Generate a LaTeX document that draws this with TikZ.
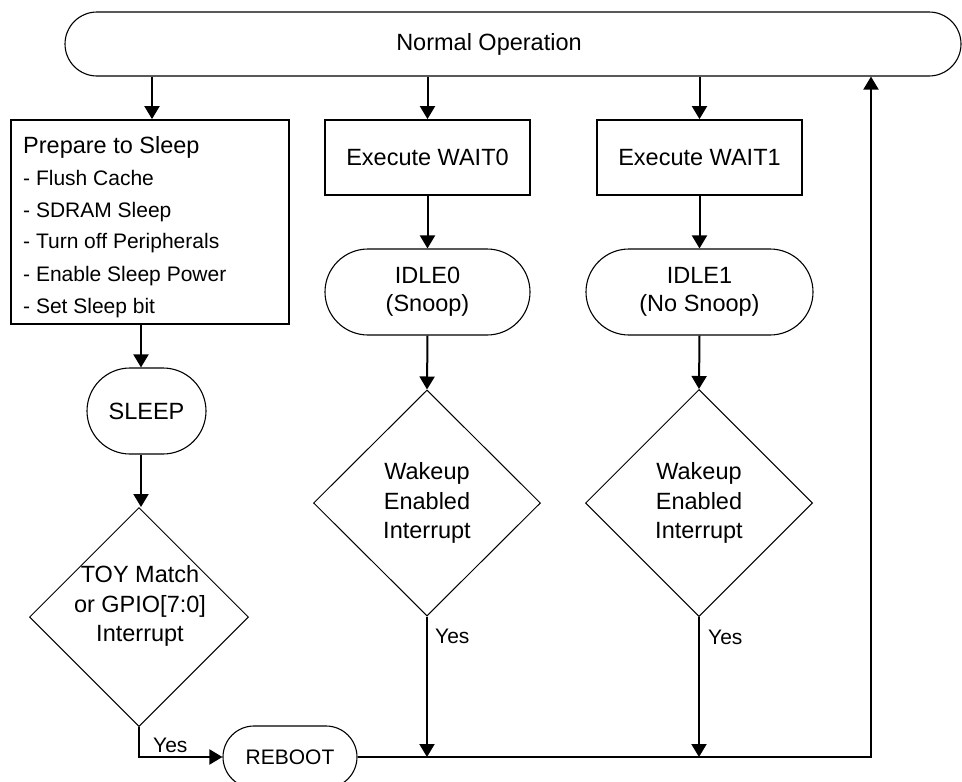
\documentclass[tikz,border=0pt]{standalone}
\usepackage{fontspec}
\setmainfont{Liberation Sans}
\usetikzlibrary{arrows.meta,shapes.geometric}
\begin{document}
\begin{tikzpicture}[x=1pt,y=-1pt,
  big/.style={font=\fontsize{23.5}{29.5}\selectfont},
  small/.style={font=\fontsize{21}{26}\selectfont},
  txt/.style={inner sep=0pt, align=center},
  box/.style={draw, line width=1.8pt, inner sep=0pt, align=center, big},
  term/.style={draw, line width=1.1pt, inner sep=0pt, align=center, font=\fontsize{23.5}{28}\selectfont},
  dec/.style={draw, diamond, aspect=1, line width=1pt, inner sep=0pt, align=center, big},
  arr/.style={draw, line width=2pt, -{Triangle[width=15pt,length=13pt]}}
]
\useasboundingbox (0,0) rectangle (962,782);

% shapes
\node[term, rounded corners=32pt, minimum width=896pt, minimum height=64pt] (normal) at (513,44) {};
\node[txt, big, anchor=base] (normaltext) at (489,50) {Normal Operation};

\node[box, minimum width=278pt, minimum height=204pt] (prep) at (150,222) {};
\node[txt, big, anchor=base west] (p0) at (23,153) {Prepare to Sleep};
\node[txt, small, anchor=base west] (p1) at (23,185) {- Flush Cache};
\node[txt, small, anchor=base west] (p2) at (23,217) {- SDRAM Sleep};
\node[txt, small, anchor=base west] (p3) at (23,248) {- Turn off Peripherals};
\node[txt, small, anchor=base west] (p4) at (23,281) {- Enable Sleep Power};
\node[txt, small, anchor=base west] (p5) at (23,313) {- Set Sleep bit};

\node[box, minimum width=205pt, minimum height=75pt] (wait0) at (427.5,157.5) {Execute WAIT0};
\node[box, minimum width=205pt, minimum height=75pt] (wait1) at (699.5,157.5) {Execute WAIT1};

\node[term, rounded corners=43pt, minimum width=205pt, minimum height=86pt] (idle0) at (427.5,292) {IDLE0\\(Snoop)};
\node[term, rounded corners=43pt, minimum width=227pt, minimum height=86pt] (idle1) at (699.5,292) {IDLE1\\(No Snoop)};

\node[term, rounded corners=43pt, minimum width=119pt, minimum height=86pt] (sleep) at (146.5,411) {SLEEP};

\node[dec, minimum width=219pt, minimum height=219pt] (toy) at (139,617) {};
\node[txt, big] (toytext) at (140,606.4) {TOY Match\\or GPIO[7:0]\\Interrupt};

\node[dec, minimum width=227pt, minimum height=226pt] (wake0) at (427,503) {Wakeup\\Enabled\\Interrupt};
\node[dec, minimum width=227pt, minimum height=227pt] (wake1) at (699,503) {Wakeup\\Enabled\\Interrupt};

\node[term, small, rounded corners=31pt, minimum width=134pt, minimum height=62pt] (reboot) at (290,757) {REBOOT};

% labels
\node[txt, small, anchor=base west] (yes0) at (153,752) {Yes};
\node[txt, small, anchor=base west] (yes1) at (435,643) {Yes};
\node[txt, small, anchor=base west] (yes2) at (708,644) {Yes};

% connectors
\coordinate (colL) at (141,0);
\coordinate (colN) at (152,0);
\coordinate (ret) at (871,757);
\draw[arr] (normal.south -| colN) -- (prep.north -| colN);
\draw[arr] (normal.south -| wait0.north) -- (wait0.north);
\draw[arr] (normal.south -| wait1.north) -- (wait1.north);
\draw[arr] (wait0) -- (idle0);
\draw[arr] (idle0.south) -- (wake0.north);
\draw[arr] (wait1) -- (idle1);
\draw[arr] (idle1.south) -- (wake1.north);
\draw[arr] (prep.south -| colL) -- (sleep.north -| colL);
\draw[arr] (sleep.south -| colL) -- (toy.north -| colL);
\draw[arr] (toy.south) -- (toy.south |- reboot.west) -- (reboot.west);
\draw[arr] (wake0.south) -- (wake0.south |- reboot.east);
\draw[arr] (wake1.south) -- (wake1.south |- reboot.east);
\draw[arr, line join=miter] (reboot.east) -- (ret) -- (ret |- normal.south);
\end{tikzpicture}
\end{document}
